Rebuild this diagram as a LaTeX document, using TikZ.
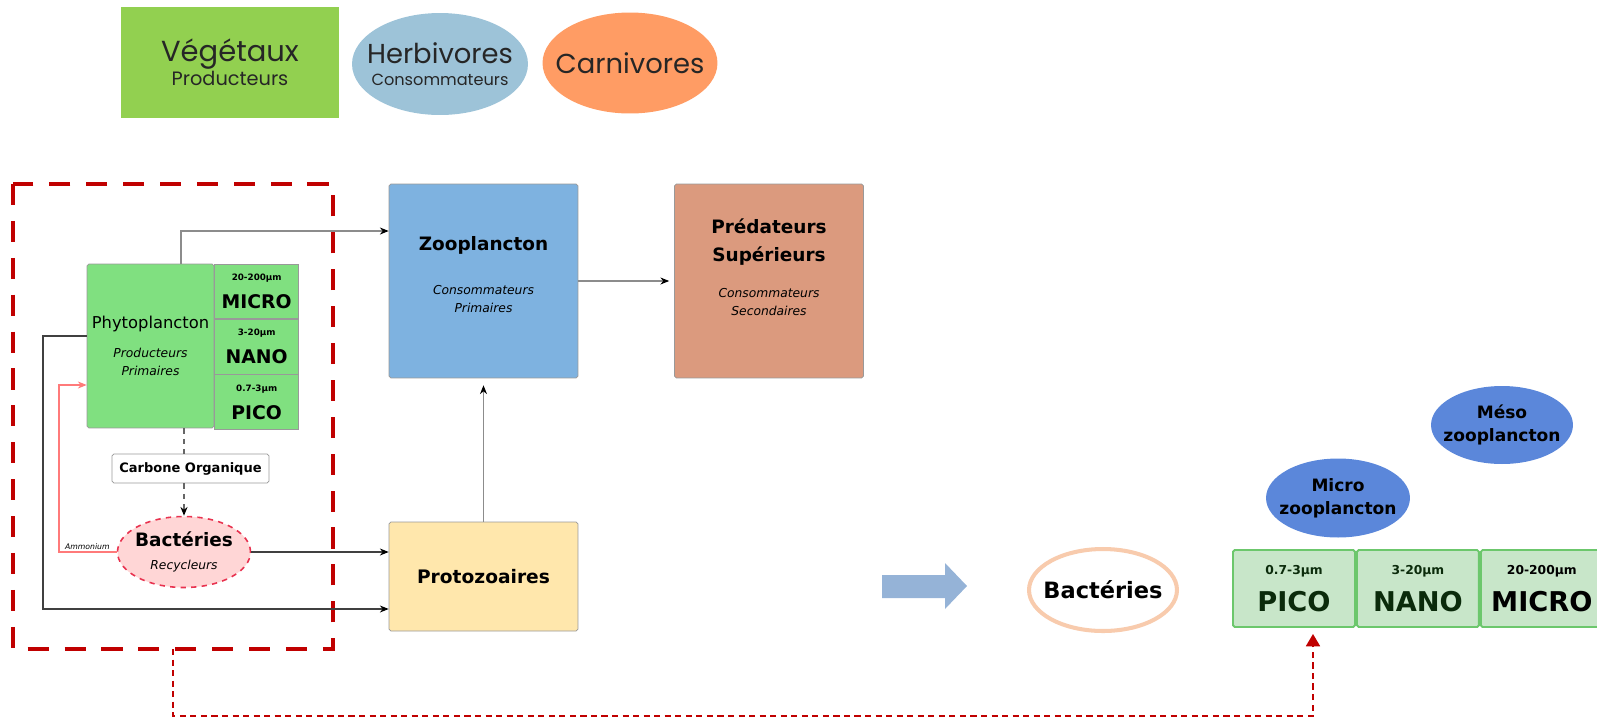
\documentclass[tikz,border=0pt]{standalone}
\usepackage{fontspec}
\setmainfont{DejaVu Sans}
\newfontfamily\legendfont{Poppins}
\usepackage{xcolor}
\usepackage{tikz}
\usetikzlibrary{shapes,arrows,arrows.meta,positioning}

\definecolor{vegcol}{HTML}{92D050}
\definecolor{herbcol}{HTML}{9DC3D8}
\definecolor{carncol}{HTML}{FF9C64}
\definecolor{legtext}{HTML}{262626}
\definecolor{phytocol}{HTML}{80E080}
\definecolor{zoocol}{HTML}{7EB2E0}
\definecolor{predcol}{HTML}{DB9A7E}
\definecolor{protocol}{HTML}{FFE7AC}
\definecolor{bactfill}{HTML}{FFD6D6}
\definecolor{bactline}{HTML}{E8324F}
\definecolor{ammcol}{HTML}{FF7A7A}
\definecolor{framered}{HTML}{C00000}
\definecolor{bigarrow}{HTML}{95B3D7}
\definecolor{peach}{HTML}{F8CBAD}
\definecolor{cellfill}{HTML}{C8E6C9}
\definecolor{cellline}{HTML}{6CC76C}
\definecolor{cellfont}{HTML}{0B2B0B}
\definecolor{zooblob}{HTML}{5B87DA}

\begin{document}
\begin{tikzpicture}[x=0.02cm, y=-0.02cm]
    \tikzstyle{legbox} = [rectangle, minimum width=4.36cm, minimum height=2.22cm, align=center, inner sep=0pt, text=legtext]
    \tikzstyle{legblob} = [ellipse, minimum width=3.52cm, minimum height=2.04cm, align=center, inner xsep=-0.3cm, inner ysep=0pt, text=legtext]
    \tikzstyle{block} = [rectangle, draw=black!40, rounded corners=1pt, minimum width=3.78cm, minimum height=3.88cm, inner sep=0pt]
    \tikzstyle{cell} = [rectangle, draw=black!40, fill=phytocol, minimum width=1.68cm, minimum height=1.093cm, inner sep=0pt, align=center, font=\bfseries\fontsize{5}{16}\selectfont]
    \tikzstyle{sizecell} = [rectangle, draw=cellline, line width=1.1pt, rounded corners=1pt, fill=cellfill, minimum width=2.44cm, minimum height=1.54cm, inner sep=0pt, align=center, text=cellfont, font=\bfseries\fontsize{7}{20.7}\selectfont]
    \tikzstyle{blob} = [ellipse, fill=zooblob, minimum width=2.88cm, minimum height=1.58cm, inner xsep=-0.3cm, inner ysep=0pt, align=center, font=\bfseries\fontsize{9.7}{13}\selectfont]
    \tikzstyle{txt} = [align=center, font=\fontsize{7}{10.2}\selectfont]
    \tikzstyle{arrow} = [-{Stealth[length=5pt,width=4pt,color=black]}, draw=black!60, line width=0.6pt]
    \tikzstyle{redlink} = [-{Triangle[length=7pt,width=8pt]}, draw=framered, line width=0.9pt, dash pattern=on 3.5pt off 2.5pt]

    \useasboundingbox (0,0) rectangle (1597,718);

    % legend
    \node [legbox, fill=vegcol, font=\legendfont\fontsize{11}{12.5}\selectfont] (veg) at (230,62.5) {{\fontsize{16.5}{12.5}\selectfont Végétaux}\\Producteurs};
    \node [legblob, fill=herbcol, font=\legendfont\fontsize{9.2}{12.5}\selectfont] (herb) at (440,64) {{\fontsize{15.6}{12.5}\selectfont Herbivores}\\Consommateurs};
    \node [legblob, fill=carncol, minimum width=3.5cm, minimum height=2.02cm, font=\legendfont\fontsize{15.6}{18}\selectfont] (carn) at (630,63) {Carnivores};

    % microbial loop frame
    \coordinate (boxnw) at (13,184);
    \coordinate (boxse) at (333,649);
    \coordinate (boxs) at (173,649);
    \draw [framered, line width=2.8pt, dash pattern=on 12pt off 9pt] (boxnw) rectangle (boxse);

    \node [block, fill=phytocol, minimum width=2.54cm, minimum height=3.28cm, align=center, font=\fontsize{7}{10.2}\selectfont] (phyto) at (150.5,346) {{\fontsize{9.3}{10.2}\selectfont Phytoplancton}\\[6.2pt]{\itshape Producteurs}\\{\itshape Primaires}};
    \node [cell, anchor=north west] (micro) at (phyto.north east) {20-200µm\\{\fontsize{10.7}{16}\selectfont MICRO}};
    \node [cell, below=0pt of micro] (nano) {3-20µm\\{\fontsize{10.7}{16}\selectfont NANO}};
    \node [cell, below=0pt of nano] (pico) {0.7-3µm\\{\fontsize{10.7}{16}\selectfont PICO}};

    \node [rectangle, draw=black!40, fill=white, rounded corners=1pt, minimum width=3.14cm, minimum height=0.58cm, inner sep=0pt, font=\bfseries\fontsize{7.4}{9}\selectfont] (carb) at (190.5,468.5) {Carbone Organique};
    \node [ellipse, draw=bactline, dashed, line width=0.9pt, fill=bactfill, minimum width=2.66cm, minimum height=1.42cm, inner xsep=-0.3cm, inner ysep=0pt, align=center, font=\fontsize{7}{13}\selectfont] (bact) at (184,552) {{\bfseries\fontsize{10.5}{13}\selectfont Bactéries}\\{\itshape Recycleurs}};
    \node [anchor=base east, inner sep=0pt, font=\itshape\fontsize{4.4}{5}\selectfont] (ammlbl) at (110,549) {Ammonium};

    % classical chain
    \node [block, fill=zoocol] (zoo) at (483.5,281) {};
    \node [txt, yshift=0.13cm] (zootxt) at (zoo) {{\bfseries\fontsize{10.5}{10.2}\selectfont Zooplancton}\\[15.3pt]{\itshape Consommateurs}\\{\itshape Primaires}};
    \node [block, fill=predcol] (pred) at (769,281) {};
    \node [txt, yshift=0.28cm] (predtxt) at (pred) {{\bfseries\fontsize{10.5}{10.2}\selectfont Prédateurs}\\[5.7pt]{\bfseries\fontsize{10.5}{10.2}\selectfont Supérieurs}\\[10.2pt]{\itshape Consommateurs}\\{\itshape Secondaires}};
    \node [block, fill=protocol, minimum height=2.18cm, font=\bfseries\fontsize{10.6}{12}\selectfont] (proto) at (483.5,576.5) {Protozoaires};

    \coordinate (loopc) at (43,609);
    \coordinate (ammc) at (59,385);
    \draw [arrow, draw=black!45] ([xshift=0.61cm]phyto.north) |- ([yshift=1cm]zoo.west);
    \draw [arrow, draw=black!75] ([yshift=0.2cm]phyto.west) -| (loopc) -- (loopc -| proto.west);
    \draw [-{Stealth[length=5pt,width=4pt]}, draw=ammcol, line width=0.6pt] (bact.west) -| (ammc) -- (ammc -| phyto.west);
    \draw [draw=black!60, line width=0.6pt, dashed] (bact.north |- phyto.south) -- (bact.north |- carb.north);
    \draw [arrow, dashed] (bact.north |- carb.south) -- (bact.north);
    \draw [arrow, draw=black!75] (bact.east) -- (bact.east -| proto.west);
    \draw [arrow, draw=black!45, shorten >=0.14cm] (proto.north) -- (zoo.south);
    \draw [arrow, draw=black!45, shorten >=0.1cm] (zoo.east) -- (pred.west);

    % size classes
    \fill [bigarrow] (882,575) -- (945,575) -- (945,563) -- (967,586) -- (945,609) -- (945,598) -- (882,598) -- cycle;
    \node [ellipse, draw=peach, line width=2.3pt, fill=white, minimum width=2.96cm, minimum height=1.64cm, inner xsep=-0.3cm, inner ysep=0pt, font=\bfseries\fontsize{12.8}{15}\selectfont] (rbact) at (1103,590) {Bactéries};
    \node [sizecell] (spico) at (1294,588.5) {0.7-3µm\\{\fontsize{15.5}{20.7}\selectfont PICO}};
    \node [sizecell, right=0pt of spico] (snano) {3-20µm\\{\fontsize{15.5}{20.7}\selectfont NANO}};
    \node [sizecell, right=0pt of snano, text=black] (smicro) {20-200µm\\{\fontsize{15.5}{20.7}\selectfont MICRO}};
    \node [blob] (microzoo) at (1338,498) {Micro\\zooplancton};
    \node [blob, minimum width=2.84cm, minimum height=1.56cm] (mesozoo) at (1502,425) {Méso\\zooplancton};

    \coordinate (cbot) at (173,716);
    \draw [redlink] (boxs) -- (cbot) -| ([xshift=0.38cm, yshift=-0.12cm]spico.south);
\end{tikzpicture}
\end{document}
